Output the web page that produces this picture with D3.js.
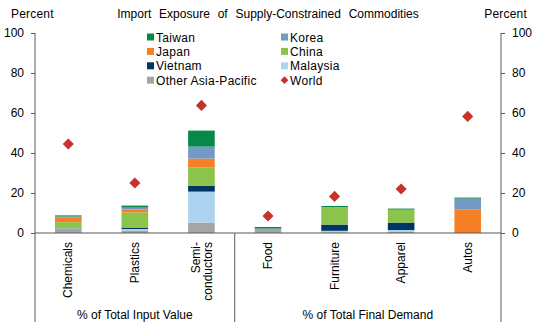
<!DOCTYPE html>
<html>
<head>
<meta charset="utf-8">
<script src="https://cdn.jsdelivr.net/npm/d3@7"></script>
<style>
  body { margin: 0; background: #fff; }
  text { font-family: "Liberation Sans", Arial, sans-serif; fill: #000; }
</style>
</head>
<body>
<div id="chart"></div>
<script>
const width = 538;
const height = 323;
const margin = { top: 33, right: 37, bottom: 90, left: 35 };

// categories and values
const categories = ['Chemicals', 'Plastics', 'Semi-conductors', 'Food', 'Furniture', 'Apparel', 'Autos'];
const categoryLines = [['Chemicals'], ['Plastics'], ['Semi-', 'conductors'], ['Food'], ['Furniture'], ['Apparel'], ['Autos']];
const groups = [
    { label: '% of Total Input Value', from: 0, to: 3 },
    { label: '% of Total Final Demand', from: 3, to: 7 }
];

// stack order, bottom to top
const stackKeys = ['Other Asia-Pacific', 'Malaysia', 'Vietnam', 'China', 'Japan', 'Korea', 'Taiwan'];
const otherAsia = [2.0, 1.3, 5.2, 2.2, 0.3, 0.5, 0];
const malaysia  = [0.3, 0.7, 15.5, 0, 0.8, 1.0, 0];
const vietnam   = [0.1, 0.7, 3.0, 0, 3.1, 3.7, 0];
const china     = [3.0, 7.6, 9.0, 0, 8.8, 6.5, 0];
const japan     = [2.2, 1.4, 4.5, 0, 0, 0, 11.7];
const korea     = [0.7, 1.0, 6.0, 0, 0, 0, 5.5];
const taiwan    = [0.5, 1.0, 8.0, 0.8, 0.5, 0.5, 0.5];
const world     = [44.5, 25.0, 63.8, 8.5, 18.3, 22.0, 58.3];

const yTicks = [0, 20, 40, 60, 80, 100];

const colors = {
    'Taiwan': '#078849',
    'Korea': '#7399c6',
    'Japan': '#f58025',
    'China': '#8cc34b',
    'Vietnam': '#003462',
    'Malaysia': '#acd3ef',
    'Other Asia-Pacific': '#a5a5a5',
    'World': '#c8322d'
};
const legendOrder = ['Taiwan', 'Korea', 'Japan', 'China', 'Vietnam', 'Malaysia', 'Other Asia-Pacific', 'World'];

const seriesByKey = {
    'Other Asia-Pacific': otherAsia, 'Malaysia': malaysia, 'Vietnam': vietnam,
    'China': china, 'Japan': japan, 'Korea': korea, 'Taiwan': taiwan
};
const table = categories.map((c, i) => {
    const row = { category: c, world: world[i] };
    stackKeys.forEach(k => row[k] = seriesByKey[k][i]);
    return row;
});

const svg = d3.select('#chart').append('svg')
    .attr('width', width)
    .attr('height', height);

const x = d3.scaleBand()
    .domain(categories)
    .range([margin.left, width - margin.right])
    .paddingInner(0.6)
    .paddingOuter(0.3);

const y = d3.scaleLinear()
    .domain([0, 100])
    .range([height - margin.bottom, margin.top]);

const stacked = d3.stack().keys(stackKeys)(table);

// bars
svg.append('g').selectAll('g')
    .data(stacked)
    .join('g')
    .attr('fill', d => colors[d.key])
    .selectAll('rect')
    .data(d => d)
    .join('rect')
    .attr('x', d => x(d.data.category))
    .attr('width', x.bandwidth())
    .attr('y', d => y(d[1]))
    .attr('height', d => y(d[0]) - y(d[1]));

// world diamonds
svg.append('g').selectAll('path')
    .data(table)
    .join('path')
    .attr('d', d3.symbol(d3.symbolSquare, 62))
    .attr('transform', d => `translate(${x(d.category) + x.bandwidth() / 2},${y(d.world)}) rotate(45)`)
    .attr('fill', colors['World']);

// axes
const axisColor = '#595959';
const leftAxis = svg.append('g')
    .attr('transform', `translate(${margin.left},0)`)
    .call(d3.axisLeft(y).tickValues(yTicks).tickSize(4).tickPadding(7));
const rightAxis = svg.append('g')
    .attr('transform', `translate(${width - margin.right},0)`)
    .call(d3.axisRight(y).tickValues(yTicks).tickSize(4).tickPadding(7));
[leftAxis, rightAxis].forEach(ax => {
    ax.select('.domain').remove();
    ax.selectAll('.tick line').attr('stroke', axisColor);
    ax.selectAll('.tick text')
        .style('font-family', '"Liberation Sans", Arial, sans-serif')
        .style('font-size', '12px')
        .attr('fill', '#000');
});

// vertical frame lines (axes extended down past category labels)
const bottomY = 322;
const divider = (x(categories[2]) + x(categories[3]) + x.bandwidth()) / 2;
[margin.left, divider, width - margin.right].forEach((xx, i) => {
    svg.append('line')
        .attr('x1', xx).attr('x2', xx)
        .attr('y1', i === 1 ? y(0) : y(100)).attr('y2', bottomY)
        .attr('stroke', axisColor);
});
svg.append('line')
    .attr('x1', margin.left).attr('x2', width - margin.right)
    .attr('y1', y(0)).attr('y2', y(0))
    .attr('stroke', axisColor);

// category labels, rotated
const catG = svg.append('g').selectAll('text')
    .data(categoryLines)
    .join('text')
    .attr('transform', (d, i) => `translate(${x(categories[i]) + x.bandwidth() / 2},242) rotate(-90)`)
    .attr('text-anchor', 'end')
    .style('font-size', '12px');
catG.selectAll('tspan')
    .data(d => d.map((t, j) => ({ t, j, n: d.length })))
    .join('tspan')
    .attr('x', 0)
    .attr('y', d => (d.j - (d.n - 1) / 2) * 12)
    .attr('dy', '0.35em')
    .text(d => d.t);

// group labels
svg.append('g').selectAll('text')
    .data(groups)
    .join('text')
    .attr('x', g => {
        const a = g.from === 0 ? margin.left : divider;
        const b = g.to === categories.length ? width - margin.right : divider;
        return (a + b) / 2;
    })
    .attr('y', 319)
    .attr('text-anchor', 'middle')
    .style('font-size', '12px')
    .text(g => g.label);

// header texts
svg.append('text').attr('x', 11).attr('y', 18).style('font-size', '12px').style('letter-spacing', '0.2px').text('Percent');
svg.append('text').attr('x', 527).attr('y', 18).attr('text-anchor', 'end').style('font-size', '12px').style('letter-spacing', '0.2px').text('Percent');
svg.append('text').attr('x', 268).attr('y', 18).attr('text-anchor', 'middle')
    .style('font-size', '12px').style('word-spacing', '4.5px')
    .text('Import Exposure of Supply-Constrained Commodities');

// legend, two columns
const legend = svg.append('g').selectAll('g')
    .data(legendOrder)
    .join('g')
    .attr('transform', (d, i) => `translate(${i % 2 === 0 ? 147 : 281},${37 + Math.floor(i / 2) * 14.4})`);
legend.filter(d => d !== 'World').append('rect')
    .attr('x', 0).attr('y', -3.5).attr('width', 7).attr('height', 7)
    .attr('fill', d => colors[d]);
legend.filter(d => d === 'World').append('path')
    .attr('d', d3.symbol(d3.symbolSquare, 30))
    .attr('transform', 'translate(3.5,0) rotate(45)')
    .attr('fill', colors['World']);
legend.append('text')
    .attr('x', 9).attr('y', 4.5)
    .style('font-size', '12px')
    .style('letter-spacing', '0.3px')
    .text(d => d);
</script>
</body>
</html>
